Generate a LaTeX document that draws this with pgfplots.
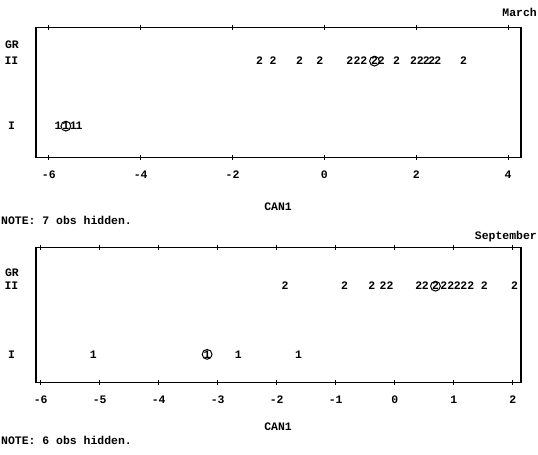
\documentclass[border=0pt]{standalone}
\usepackage{fontspec}
\setmainfont{Liberation Mono}
\usepackage{pgfplots}
\pgfplotsset{compat=1.18}

\begin{document}
\begin{tikzpicture}[font=\fontsize{11.5}{13}\selectfont\bfseries]
\pgfplotsset{
  sas/.style={
    scale only axis, width=485bp,
    xtick pos=both, tick align=center, major tick length=5bp,
    axis line style={line width=1.2bp},
    x tick style={line width=0.9bp,black},
    ytick={1,2}, yticklabels={I,II},
    y tick style={draw=none},
    /pgf/number format/assume math mode=true,
    tick label style={font=\fontsize{11.5}{13}\selectfont\bfseries},
    yticklabel style={anchor=center, xshift=-22bp},
    xticklabel style={yshift=-8bp},
    clip=false,
  },
  digit/.style={only marks, mark=text, text mark={#1}, text mark as node=true,
    text mark style={font=\fontsize{11.5}{13}\selectfont\bfseries, inner sep=0pt}},
  ring/.style={only marks, mark=o, mark size=4.9bp, mark options={line width=1bp, black}},
}
\path (0bp,0bp) rectangle (538bp,-455bp);
% ---------- March ----------
\begin{axis}[sas, at={(36bp,-157.3bp)}, anchor=south west, height=130bp,
  xmin=-6.28, xmax=4.28, ymin=0.52, ymax=2.52,
  xtick={-6,-4,-2,0,2,4}]
\addplot[digit=2] coordinates {(-1.41,2) (-1.12,2) (-0.54,2) (-0.10,2) (0.55,2) (0.71,2) (0.86,2)
  (1.24,2) (1.57,2) (1.94,2) (2.09,2) (2.22,2) (2.34,2) (2.47,2) (3.03,2)};
\addplot[digit=2] coordinates {(1.09,2)};
\addplot[ring] coordinates {(1.09,2)};
\addplot[digit=1] coordinates {(-5.80,1) (-5.47,1) (-5.34,1)};
\addplot[digit=1] coordinates {(-5.63,1)};
\addplot[ring] coordinates {(-5.63,1)};
\end{axis}
% ---------- September ----------
\begin{axis}[sas, at={(36bp,-382.3bp)}, anchor=south west, height=135bp,
  xmin=-6.08, xmax=2.14, ymin=0.59, ymax=2.57,
  xtick={-6,-5,-4,-3,-2,-1,0,1,2}]
\addplot[digit=2] coordinates {(-1.86,2) (-0.85,2) (-0.39,2) (-0.20,2) (-0.08,2) (0.41,2) (0.52,2)
  (0.83,2) (0.95,2) (1.06,2) (1.17,2) (1.29,2) (1.52,2) (2.03,2)};
\addplot[digit=2] coordinates {(0.69,2)};
\addplot[ring] coordinates {(0.69,2)};
\addplot[digit=1] coordinates {(-5.11,1) (-2.65,1) (-1.63,1)};
\addplot[digit=1] coordinates {(-3.18,1)};
\addplot[ring] coordinates {(-3.18,1)};
\end{axis}
\node[anchor=east,inner sep=0] at (537bp,-12bp) {March};
\node at (12bp,-45bp) {GR};
\node at (278bp,-207bp) {CAN1};
\node[anchor=west,inner sep=0] at (1bp,-220bp) {NOTE: 7 obs hidden.};
\node[anchor=east,inner sep=0] at (537bp,-237bp) {September};
\node at (12bp,-273bp) {GR};
\node at (278bp,-427bp) {CAN1};
\node[anchor=west,inner sep=0] at (1bp,-440bp) {NOTE: 6 obs hidden.};
\end{tikzpicture}
\end{document}
